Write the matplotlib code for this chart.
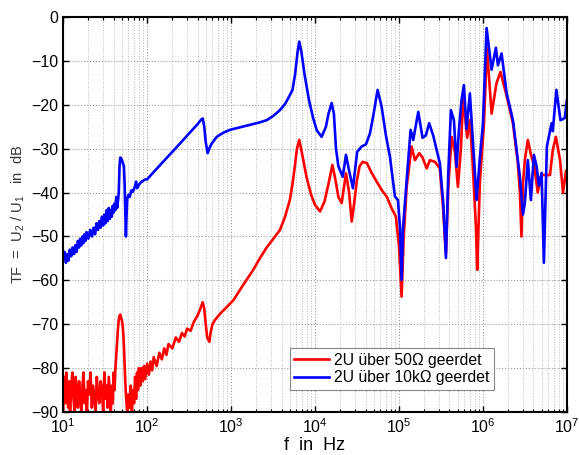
import matplotlib
matplotlib.use("Agg")
import matplotlib.pyplot as plt
from matplotlib.ticker import LogLocator, NullFormatter

plt.rcParams["font.family"] = ["Liberation Sans", "DejaVu Sans"]
plt.rcParams["mathtext.fontset"] = "custom"
plt.rcParams["mathtext.rm"] = "Liberation Sans"
plt.rcParams["mathtext.it"] = "Liberation Sans:italic"

# --- data: (frequency in Hz, TF in dB) ---
red_points = [
    (10, -90), (10.3, -82), (10.6, -88), (10.9, -81), (11.2, -86), (11.5, -89), (11.8, -83),
    (12.1, -90), (12.5, -84), (12.9, -81), (13.3, -87), (13.7, -90), (14.1, -82), (14.5, -85),
    (15, -89), (15.5, -83), (16, -87), (16.5, -90), (17, -84), (17.5, -81), (18, -88),
    (18.6, -85), (19.2, -90), (19.8, -83), (20.5, -86), (21.2, -81), (22, -89), (22.8, -84),
    (23.6, -87), (24.4, -90), (25.2, -82), (26, -86), (27, -88), (28, -83), (29, -85),
    (30, -90), (31, -81), (32, -87), (33, -84), (34, -89), (35, -82), (36, -86), (37, -90),
    (38, -84), (39, -88), (40, -81), (41, -85), (42, -80), (43, -77), (44, -74), (45, -71),
    (46, -69), (47, -68), (48, -67.8), (49, -68.5), (50, -69), (51, -70), (52, -72), (53, -75),
    (54, -79), (55, -83), (56, -86), (57, -88), (58, -90), (60, -86), (62, -89), (64, -84),
    (66, -90), (68, -85), (70, -88), (72, -82), (74, -87), (76, -81), (78, -85), (80, -80),
    (83, -84), (86, -80), (89, -83), (92, -79.5), (95, -82.5), (100, -79), (105, -81.5),
    (110, -78.5), (115, -80.5), (120, -77.5), (130, -79.5), (140, -76.5), (150, -78),
    (160, -75.5), (170, -77), (180, -74.5), (200, -75.5), (220, -73), (240, -74), (260, -72),
    (280, -72.8), (300, -71), (330, -71.5), (360, -69.5), (400, -68), (430, -66.5), (460, -65),
    (480, -66.5), (500, -70), (520, -73), (552, -74), (570, -72), (600, -70), (645, -69),
    (750, -67.5), (900, -66), (1070, -64.5), (1400, -61), (1840, -57.6), (2200, -55),
    (2660, -52.5), (3200, -50.5), (3830, -48.5), (4400, -45.5), (5020, -41.7), (5400, -38),
    (5750, -34.1), (6100, -30), (6500, -28), (7000, -31), (7940, -36.5), (9000, -40.5),
    (10000, -42.8), (11500, -44.3), (13000, -42), (14500, -38), (16100, -33.7), (17500, -37),
    (19000, -41), (20800, -42.4), (23400, -35.6), (25500, -40), (27400, -46.6), (29500, -42),
    (31400, -37.5), (34000, -34), (37000, -33), (41600, -33.3), (47300, -35.5), (54300, -37.5),
    (62300, -39.4), (71400, -40.9), (81900, -43.6), (92100, -45.5), (100000, -52),
    (107600, -63.7), (114000, -50), (123600, -38.7), (141600, -29.5), (155000, -32.6),
    (174600, -31), (191000, -32), (214000, -34.5), (234000, -32.6), (269000, -33),
    (307000, -34.5), (334000, -43), (363000, -54), (387000, -38.7), (424000, -27.3),
    (464000, -30.7), (504000, -38.7), (547000, -30), (582000, -18.2), (650000, -27.5),
    (700000, -23.5), (754000, -33), (826000, -47.8), (855000, -57.6), (921000, -37.5),
    (1.028e6, -24.6), (1.117e6, -7), (1.27e6, -22), (1.455e6, -15), (1.62e6, -12.5),
    (1.92e6, -18), (2.28e6, -24.2), (2.6e6, -33), (2.76e6, -40), (2.88e6, -50), (3.0e6, -38),
    (3.16e6, -32.6), (3.43e6, -28), (3.75e6, -31.5), (4.1e6, -34), (4.5e6, -40), (5.0e6, -36),
    (5.4e6, -36), (6.3e6, -36), (6.8e6, -30.3), (7.4e6, -27.3), (8.3e6, -32.6), (9.0e6, -40),
    (9.8e6, -35), (1e7, -35),
]

blue_points = [
    (10, -55), (10.4, -53.5), (10.8, -56), (11.2, -54), (11.6, -55.5), (12, -53), (12.5, -54.5),
    (13, -52.5), (13.5, -54), (14, -52), (14.5, -53.5), (15, -51), (15.5, -52.5), (16, -50.5),
    (16.5, -52), (17, -50), (17.5, -51.5), (18, -49.5), (18.5, -51), (19, -49), (20, -50.5),
    (21, -48.5), (22, -50), (23, -48), (24, -49.5), (25, -47), (26, -48.5), (27, -46.5),
    (28, -48), (29, -45.5), (30, -47.5), (31, -45), (32, -47), (33, -44), (34, -46.5),
    (35, -43.5), (36, -46), (37, -44), (38, -45.5), (39, -43), (40, -44.5), (41, -42.5),
    (42, -44), (43, -41), (44, -43.5), (45, -42), (46, -40), (47, -34), (48, -32), (49, -32.2),
    (50, -32.5), (51, -33), (52, -33.5), (53, -34), (54, -38), (55, -44), (56, -50), (57, -45),
    (58, -41.5), (60, -40.5), (62, -41), (65, -39.5), (68, -39.8), (72, -38.5), (74, -37.5),
    (76, -39), (80, -38.2), (85, -37.6), (90, -37.3), (95, -37), (100, -37), (120, -35.3),
    (150, -33.3), (200, -30.7), (250, -28.7), (300, -27), (350, -25.6), (400, -24.4),
    (440, -23.4), (460, -23.1), (480, -25), (500, -28.5), (527, -31), (545, -30.2),
    (570, -29.3), (600, -28.6), (676, -27.3), (800, -26.4), (970, -25.7), (1300, -25.1),
    (1680, -24.6), (2200, -24.0), (2660, -23.5), (3200, -22.5), (3830, -21.2), (4400, -19.8),
    (4800, -18.5), (5400, -16.6), (5800, -13), (6200, -8), (6500, -5.6), (6900, -8),
    (7500, -13), (8500, -19), (9500, -23), (10500, -25.8), (12000, -27.3), (13500, -25),
    (14500, -22), (15800, -19.6), (16800, -22), (17800, -30), (19000, -34), (21400, -36.4),
    (23400, -31.4), (25500, -35), (28300, -39), (31800, -30.7), (36000, -29.5), (40500, -29),
    (45200, -26.5), (50000, -22), (55700, -16.6), (62200, -20.4), (70000, -27), (78100, -31.8),
    (89600, -40.9), (97300, -41.7), (103000, -48), (107600, -59.9), (112000, -48),
    (123600, -37.2), (137700, -25.7), (148000, -28), (170000, -21.6), (191000, -27.5),
    (209000, -27), (229000, -24.2), (256000, -27), (307000, -33.3), (337000, -42.3),
    (363000, -54.9), (387000, -35.6), (416000, -21.2), (452000, -23.5), (486000, -34.1),
    (518000, -25.8), (557000, -18.9), (594000, -15.5), (639000, -25.5), (700000, -17.4),
    (766000, -29.5), (841000, -41.7), (921000, -32), (1.0e6, -24.5), (1.107e6, -2.5),
    (1.27e6, -12), (1.43e6, -7), (1.51e6, -11), (1.67e6, -8.3), (1.92e6, -17.4),
    (2.28e6, -23.5), (2.76e6, -36.4), (3.0e6, -45), (3.16e6, -42.4), (3.43e6, -32.6),
    (3.73e6, -41.7), (4.05e6, -31.4), (4.36e6, -34), (4.64e6, -38.4), (5.0e6, -35.5),
    (5.33e6, -56), (5.78e6, -29.5), (6.58e6, -24.2), (6.8e6, -26), (7.5e6, -16.6),
    (8.4e6, -23.5), (9.46e6, -23), (1e7, -19),
]

labels = ["2U über 50Ω geerdet", "2U über 10kΩ geerdet"]
x_ticks = [1e1, 1e2, 1e3, 1e4, 1e5, 1e6, 1e7]
y_ticks = [0, -10, -20, -30, -40, -50, -60, -70, -80, -90]

red_f, red_db = zip(*red_points)
blue_f, blue_db = zip(*blue_points)

fig = plt.figure(figsize=(5.79, 4.55), dpi=100)
ax = fig.add_axes([0.109, 0.0945, 0.870, 0.868])

ax.semilogx(red_f, red_db, color="#ff0000", linewidth=1.9, label=labels[0])
ax.semilogx(blue_f, blue_db, color="#0000ff", linewidth=1.9, label=labels[1])

ax.set_xlim(10, 1e7)
ax.set_ylim(-90, 0)
ax.set_xticks(x_ticks)
ax.set_yticks(y_ticks)
ax.xaxis.set_minor_locator(LogLocator(base=10, subs=range(2, 10), numticks=100))
ax.xaxis.set_minor_formatter(NullFormatter())

# MATLAB-artiger Rahmen und Gitter
ax.grid(True, which="major", linestyle=":", color="#999999", linewidth=0.8)
ax.grid(True, which="minor", axis="x", linestyle=":", color="#bbbbbb", linewidth=0.7)
ax.tick_params(which="both", direction="in", top=True, right=True, labelsize=11.5)
ax.tick_params(which="major", length=4, width=1)
ax.tick_params(which="minor", length=2, width=0.8)
for sp in ax.spines.values():
    sp.set_linewidth(1.5)

ax.set_xlabel("f  in  Hz", fontsize=13, labelpad=1)
ax.set_ylabel(r"TF  =  U$_2$ / U$_1$   in  dB", fontsize=10.5, color="#333333", labelpad=3)

leg = ax.legend(loc="lower left", bbox_to_anchor=(0.45, 0.056), fontsize=11.3,
                fancybox=False, framealpha=1, edgecolor="#888888",
                handlelength=2.2, handletextpad=0.3, borderpad=0.3,
                labelspacing=0.15, borderaxespad=0)
leg.get_frame().set_linewidth(0.8)

fig.savefig("out.png", dpi=100)
